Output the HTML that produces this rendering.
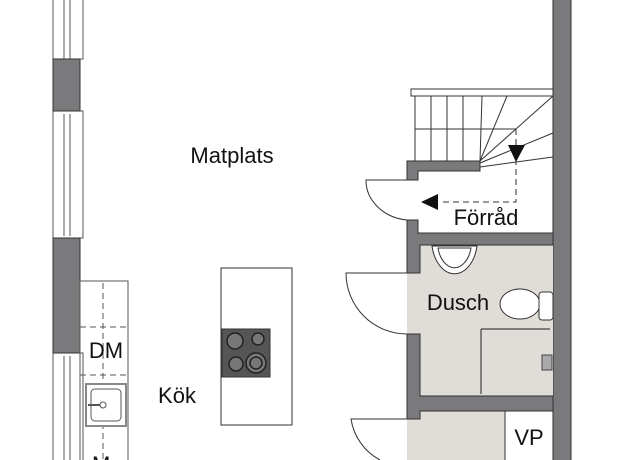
<!DOCTYPE html>
<html><head><style>body{margin:0;background:#fff}svg{display:block}text{font-family:"Liberation Sans",sans-serif;fill:#111}</style></head>
<body>
<svg width="625" height="460" viewBox="0 0 625 460" xmlns="http://www.w3.org/2000/svg">
<g fill="none" stroke="#555" stroke-width="1">
<rect x="53" y="-2" width="30" height="61"/><line x1="64" y1="0" x2="64" y2="59"/><line x1="70" y1="0" x2="70" y2="59"/>
<rect x="53" y="111" width="30" height="127"/><line x1="64" y1="114" x2="64" y2="236"/><line x1="70" y1="114" x2="70" y2="236"/>
<rect x="53" y="353" width="30" height="110"/><line x1="64" y1="356" x2="64" y2="460"/><line x1="70" y1="356" x2="70" y2="460"/>
</g>
<g fill="#7a7a7c" stroke="#333" stroke-width="1">
<rect x="53" y="59" width="27" height="52"/>
<rect x="53" y="238" width="27" height="115"/>
<rect x="553" y="-2" width="18" height="464"/>
</g>
<rect x="407" y="245" width="146" height="152" fill="#e0dcd7"/>
<rect x="407" y="411" width="146" height="49" fill="#e0dcd7"/>
<g fill="#7a7a7c" stroke="#333" stroke-width="1">
<path d="M407 161 H480 V171 H418 V180 H407 Z"/>
<path d="M407 220 H418 V233 H553 V245 H420 V273 H407 Z"/>
<path d="M407 334 H420 V396 H553 V411 H420 V419 H407 Z"/>
</g>
<rect x="505" y="411" width="48" height="52" fill="#fff" stroke="#333"/>
<g fill="none" stroke="#333" stroke-width="1">
<path d="M407 180 H366 A46 40 0 0 0 407 220"/>
<path d="M407 273 H346 A61 61 0 0 0 407 334"/>
<path d="M407 419 H351 A56 56 0 0 0 380 460"/>
</g>
<g fill="none" stroke="#333" stroke-width="1">
<rect x="411" y="89" width="142" height="7" fill="#fff"/>
<line x1="415" y1="96" x2="415" y2="161"/><line x1="431" y1="96" x2="431" y2="161"/>
<line x1="447" y1="96" x2="447" y2="161"/><line x1="463" y1="96" x2="463" y2="161"/>
<line x1="415" y1="129" x2="516" y2="129"/>
<line x1="480" y1="161" x2="482" y2="96"/>
<line x1="480" y1="161" x2="507" y2="96"/>
<line x1="480" y1="161" x2="553" y2="96"/>
<line x1="480" y1="163" x2="553" y2="133"/>
<line x1="480" y1="167" x2="553" y2="157"/>
<path d="M516 129 V202 H440" stroke-dasharray="6,4"/>
</g>
<path d="M508 145 L525 145 L516 162 Z" fill="#111"/>
<path d="M421 202 L438 194 L438 210 Z" fill="#111"/>
<g fill="#fff" stroke="#333" stroke-width="1">
<path d="M432 246 A23 35 0 0 0 477 246 Z"/>
<path d="M438 248 A17 26 0 0 0 471 248 Z" fill="none"/>
<ellipse cx="520" cy="304" rx="20" ry="15"/>
<rect x="539" y="292" width="14" height="28" rx="3"/>
</g>
<g fill="none" stroke="#444" stroke-width="1.2">
<path d="M481 329 H550 M481 329 V394"/>
</g>
<rect x="542" y="355" width="10" height="15" fill="#aaa" stroke="#444"/>
<g fill="none" stroke="#555" stroke-width="1">
<rect x="80" y="281" width="48" height="182"/>
<line x1="103" y1="283" x2="103" y2="460" stroke-dasharray="6,4"/>
<line x1="80" y1="327" x2="128" y2="327" stroke-dasharray="6,4"/>
<line x1="80" y1="375" x2="128" y2="375" stroke-dasharray="6,4"/>
<rect x="86" y="384" width="40" height="42" fill="#fff" stroke-width="2" stroke="#888"/>
<rect x="91" y="389" width="30" height="32" rx="4" fill="#fff"/>
<circle cx="103" cy="405" r="3"/>
<line x1="88" y1="405" x2="100" y2="405" stroke-width="2"/>
</g>
<rect x="221" y="268" width="71" height="157" fill="#fff" stroke="#333"/>
<rect x="222" y="329" width="48" height="48" fill="#555" stroke="#333"/>
<g fill="#777" stroke="#222" stroke-width="1.5">
<circle cx="235" cy="341" r="8"/><circle cx="258" cy="339" r="6"/>
<circle cx="236" cy="364" r="7"/><circle cx="256" cy="363" r="10"/><circle cx="256" cy="363" r="6"/>
</g>
<text x="232" y="163" font-size="22" text-anchor="middle">Matplats</text>
<text x="486" y="225" font-size="22" text-anchor="middle">Förråd</text>
<text x="458" y="310" font-size="22" text-anchor="middle">Dusch</text>
<text x="177" y="403" font-size="22" text-anchor="middle">Kök</text>
<text x="106" y="358" font-size="22" text-anchor="middle">DM</text>
<text x="529" y="445" font-size="22" text-anchor="middle">VP</text>
<text x="92" y="472" font-size="22">M</text>
</svg>
</body></html>
